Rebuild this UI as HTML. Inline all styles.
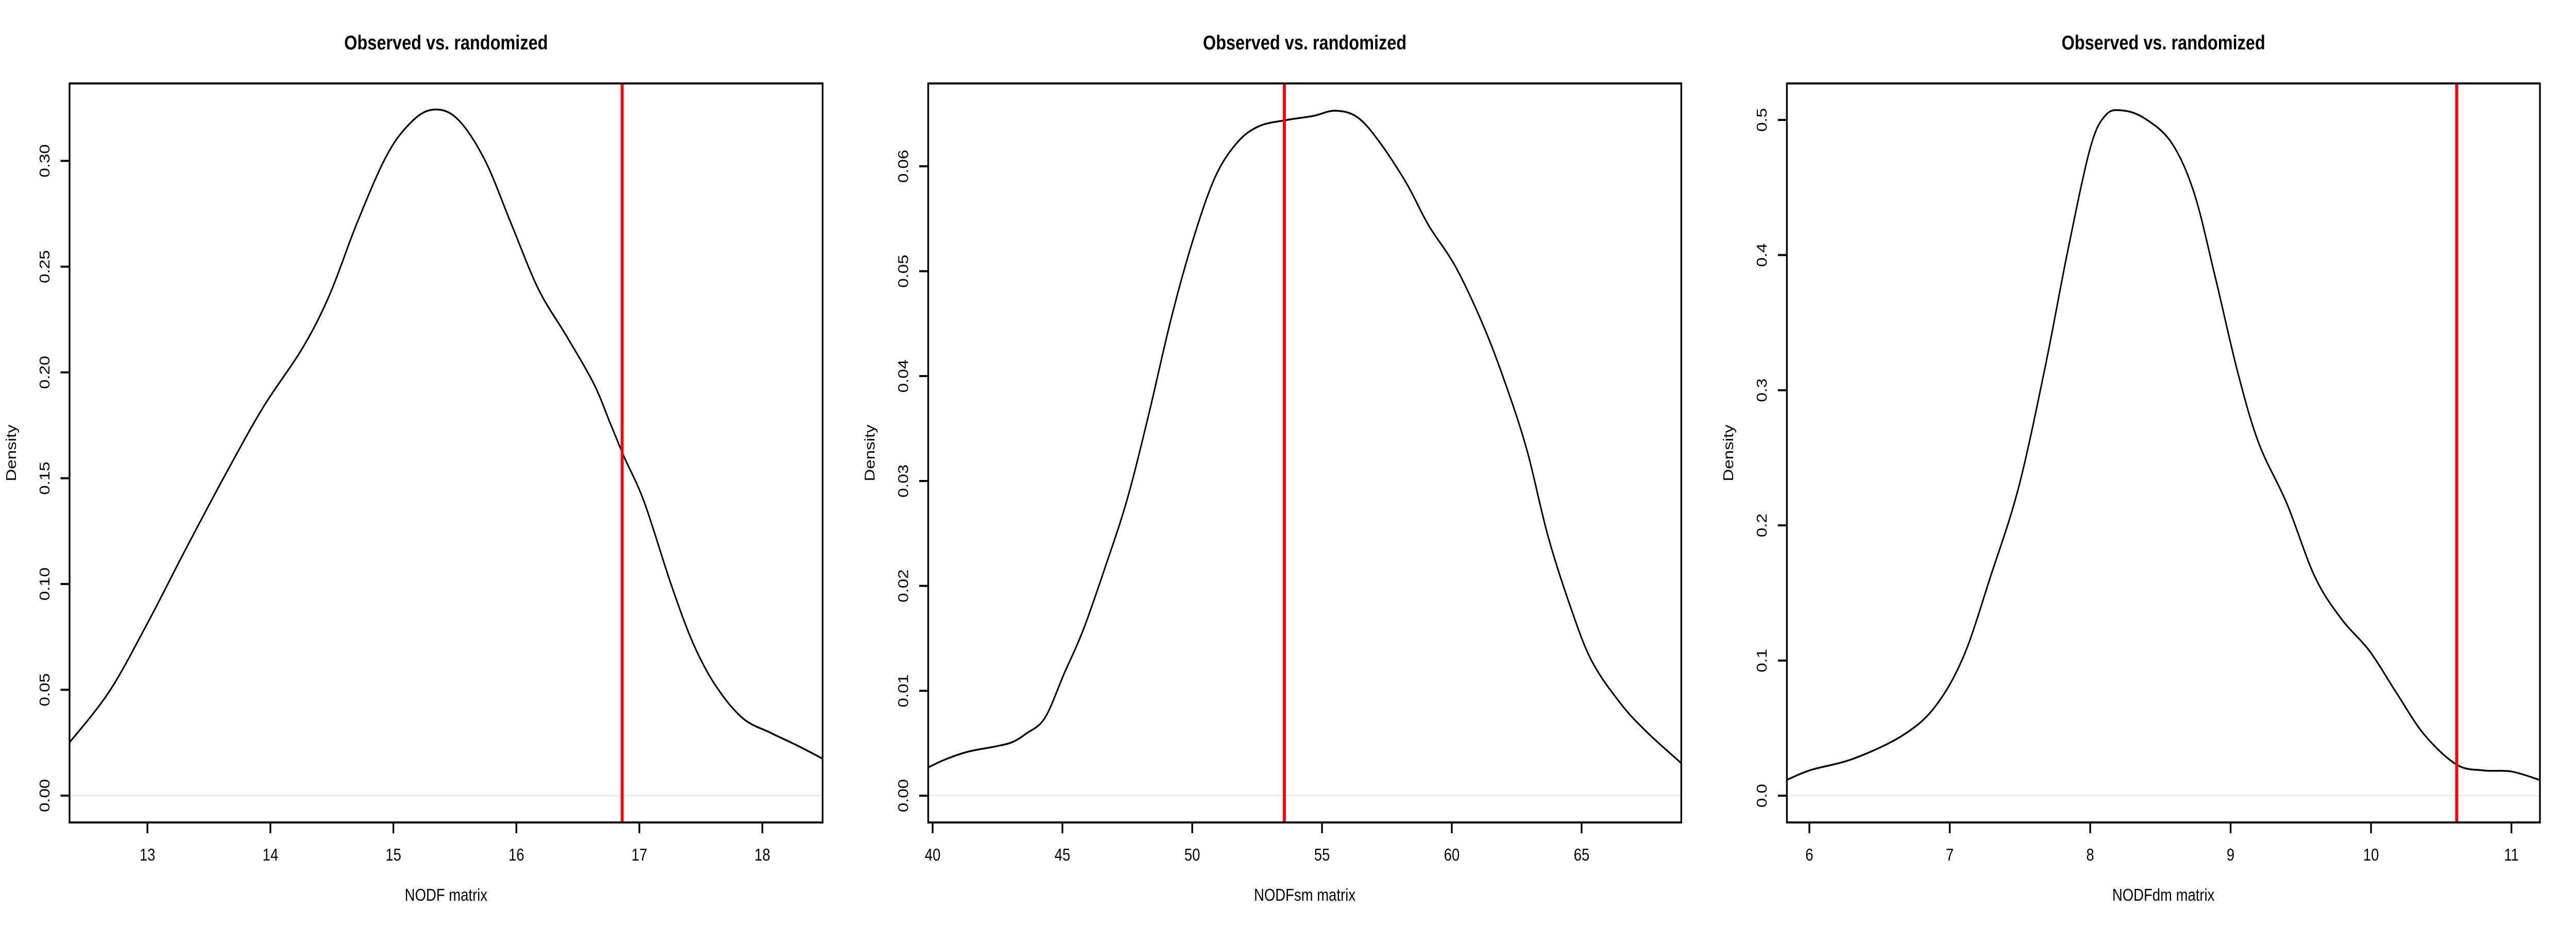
<!DOCTYPE html>
<html><head><meta charset="utf-8"><style>
html,body{margin:0;padding:0;background:#fff;width:100%;height:100%;overflow:hidden;}
svg{display:block;position:absolute;left:0;top:0;width:100vw;height:100vh;font-family:"Liberation Sans",Arial,sans-serif;}
</style></head><body>
<svg id="chart" viewBox="0 0 6000 1800" preserveAspectRatio="none" xmlns="http://www.w3.org/2000/svg"></svg>
<script>
// Panel 1: NODF
const p1X = [12.36,12.69,13.0,13.31,13.63,13.94,14.26,14.48,14.70,14.93,15.11,15.30,15.51,15.74,15.96,16.18,16.41,16.63,16.77,16.88,17.04,17.26,17.44,17.62,17.84,18.07,18.29,18.52];
const p1Y = [0.0246,0.0492,0.0814,0.1163,0.1513,0.1834,0.2114,0.2365,0.27,0.3008,0.3162,0.324,0.3204,0.3008,0.27,0.2393,0.217,0.1946,0.175,0.1596,0.1387,0.0995,0.0716,0.052,0.0366,0.0296,0.0235,0.0165];
const p1XTicks = [13,14,15,16,17,18];
const p1YTicks = ["0.00","0.05","0.10","0.15","0.20","0.25","0.30"];
const p1Obs = 16.86;
// Panel 2: NODFsm
const p2X = [39.83,40.53,41.37,42.43,43.06,43.59,44.32,45.06,45.8,46.65,47.5,48.33,49.18,50.02,50.87,51.71,52.55,53.6,54.66,55.5,56.35,57.19,58.25,59.1,60.15,61.2,62.05,62.9,63.7,64.6,65.4,66.5,67.5,68.84];
const p2Y = [0.0027,0.0035,0.0042,0.0047,0.0051,0.0059,0.0074,0.0116,0.0158,0.0218,0.0283,0.0364,0.0454,0.0529,0.0589,0.0622,0.0638,0.0644,0.0648,0.0653,0.0647,0.0624,0.0584,0.0544,0.0504,0.0449,0.0394,0.0329,0.0248,0.0178,0.0128,0.0088,0.0061,0.0031];
const p2XTicks = [40,45,50,55,60,65];
const p2YTicks = ["0.00","0.01","0.02","0.03","0.04","0.05","0.06"];
const p2Obs = 53.55;
// Panel 3: NODFdm
const p3X = [5.84,6.01,6.32,6.67,6.9,7.1,7.29,7.49,7.68,7.84,8.0,8.11,8.23,8.39,8.58,8.74,8.89,9.05,9.2,9.4,9.6,9.79,9.99,10.18,10.38,10.61,10.8,11.0,11.2];
const p3Y = [0.0117,0.019,0.0276,0.045,0.0665,0.1035,0.162,0.228,0.3175,0.403,0.479,0.5035,0.507,0.501,0.483,0.446,0.384,0.3136,0.261,0.2163,0.162,0.1307,0.107,0.0763,0.0451,0.023,0.0187,0.0179,0.0117];
const p3XTicks = [6,7,8,9,10,11];
const p3YTicks = ["0.0","0.1","0.2","0.3","0.4","0.5"];
const p3Obs = 10.61;

const NS = "http://www.w3.org/2000/svg";
const svg = document.getElementById('chart');
function mk(tag, attrs, parent){const e=document.createElementNS(NS,tag);for(const k in attrs)e.setAttribute(k,attrs[k]);(parent||svg).appendChild(e);return e;}

const panels = [
 {xs:p1X, ys:p1Y, xt:p1XTicks, yt:p1YTicks, obs:p1Obs, xmin:12.367, xmax:18.49, ymin:-0.0127, ymax:0.3366, xlab:"NODF matrix", left:162},
 {xs:p2X, ys:p2Y, xt:p2XTicks, yt:p2YTicks, obs:p2Obs, xmin:39.83, xmax:68.84, ymin:-0.00255, ymax:0.0679, xlab:"NODFsm matrix", left:2162},
 {xs:p3X, ys:p3Y, xt:p3XTicks, yt:p3YTicks, obs:p3Obs, xmin:5.84, xmax:11.203, ymin:-0.0198, ymax:0.527, xlab:"NODFdm matrix", left:4162}
];
const TOP=162, BOT=1597, W=1754;

panels.forEach((p,i)=>{
  const L=p.left, R=L+W;
  const sx=v=>L+(v-p.xmin)/(p.xmax-p.xmin)*W;
  const sy=v=>BOT-(v-p.ymin)/(p.ymax-p.ymin)*(BOT-TOP);
  const g=mk('g',{});
  
  
  const cp=mk('clipPath',{id:'clip'+i},g);
  mk('rect',{x:L,y:TOP,width:W,height:BOT-TOP},cp);
  const t=mk('text',{x:(L+R)/2,y:96,'text-anchor':'middle','font-size':39,'font-weight':'bold'},g);
  t.textContent="Observed vs. randomized";
  
  
  const z=mk('line',{x1:L,x2:R,y1:sy(0),y2:sy(0),stroke:'#e3e3e3','stroke-width':2},g);
  
  
  const pts=p.xs.map((x,k)=>[sx(x),sy(p.ys[k])]);
  let d=`M${pts[0][0]},${pts[0][1]}`;
  for(let k=0;k<pts.length-1;k++){
    const p0=pts[k-1]||pts[k],p1=pts[k],p2=pts[k+1],p3=pts[k+2]||p2;
    const c1=[p1[0]+(p2[0]-p0[0])/6,p1[1]+(p2[1]-p0[1])/6];
    const c2=[p2[0]-(p3[0]-p1[0])/6,p2[1]-(p3[1]-p1[1])/6];
    d+=` C${c1[0]},${c1[1]} ${c2[0]},${c2[1]} ${p2[0]},${p2[1]}`;
  }
  const c=mk('path',{d:d,fill:'none',stroke:'#000','stroke-width':3.5,'clip-path':`url(#clip${i})`},g);
  
  
  const o=mk('line',{x1:sx(p.obs),x2:sx(p.obs),y1:TOP,y2:BOT,stroke:'#ff0000','stroke-width':7},g);
  
  
  const f=mk('rect',{x:L,y:TOP,width:W,height:BOT-TOP,fill:'none',stroke:'#000','stroke-width':4},g);
  
  
  p.xt.forEach(v=>{
    const x=sx(v);
    const tk=mk('line',{x1:x,x2:x,y1:BOT,y2:BOT+21,stroke:'#000','stroke-width':4},g);
    
    
    const tl=mk('text',{x:x,y:1671,'text-anchor':'middle','font-size':33},g);
    tl.textContent=v;
    
    
  });
  p.yt.forEach(s=>{
    const y=sy(parseFloat(s));
    const tk=mk('line',{x1:L-21,x2:L,y1:y,y2:y,stroke:'#000','stroke-width':4},g);
    
    
    const tl=mk('text',{x:0,y:0,'text-anchor':'middle','font-size':33,transform:`translate(${L-47},${y}) rotate(-90)`},g);
    tl.textContent=s;
    
    
  });
  const xl=mk('text',{x:(L+R)/2,y:1749,'text-anchor':'middle','font-size':33},g);
  xl.textContent=p.xlab;
  
  
  const yl=mk('text',{x:0,y:0,'text-anchor':'middle','font-size':33,transform:`translate(${L-125},${(TOP+BOT)/2}) rotate(-90)`},g);
  yl.textContent="Density";
  
  
});
</script>
</body></html>
